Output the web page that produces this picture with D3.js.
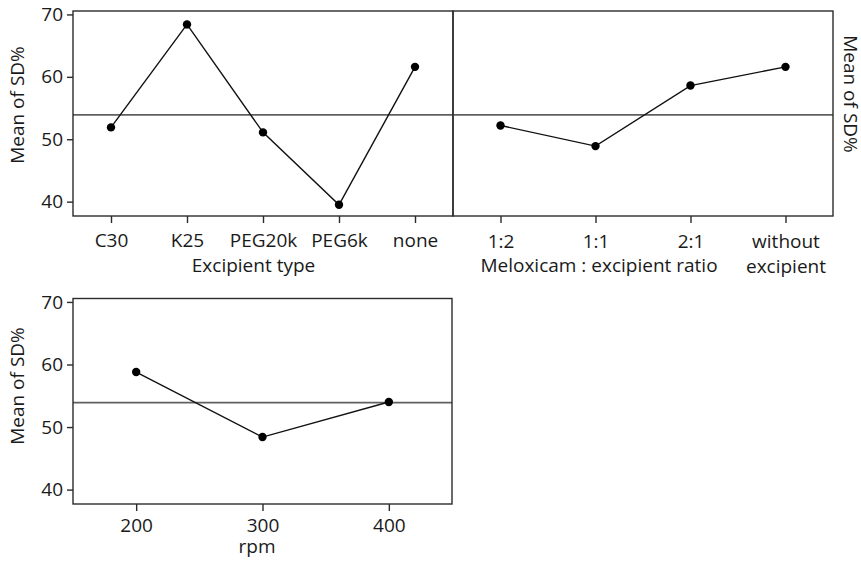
<!DOCTYPE html>
<html>
<head>
<meta charset="utf-8">
<script src="https://cdn.jsdelivr.net/npm/d3@7/dist/d3.min.js"></script>
<style>
  html, body { margin: 0; padding: 0; background: #fff; }
  svg { display: block; }
  text { font-family: "Open Sans", "Noto Sans", sans-serif; fill: #1a1a1a; }
</style>
</head>
<body>
<svg id="chart" width="861" height="563"></svg>
<script>
// ---- data ----
const excipientTypes = ["C30", "K25", "PEG20k", "PEG6k", "none"];
const excipientMeans = [51.9, 68.4, 51.1, 39.5, 61.6];

const ratioLabels = ["1:2", "1:1", "2:1", "without\nexcipient"];
const ratioMeans = [52.2, 48.9, 58.6, 61.6];

const rpmValues = [200, 300, 400];
const rpmMeans = [58.8, 48.4, 54.0];
const rpmTicks = [200, 300, 400];

const grandMean = 53.9;
const yTicks = [40, 50, 60, 70];
const yLabel = "Mean of SD%";

// ---- layout ----
const svg = d3.select("#chart");
const FS = 19;
const yDomain = [37.7, 70.55];
const borderColor = "#2b2b2b";

function panel(opts) {
  const g = svg.append("g");
  const { x0, x1, y0, y1, xScale, xs, ys, showY } = opts;
  const yScale = d3.scaleLinear().domain(yDomain).range([y1, y0]);

  // mean reference line
  g.append("line")
    .attr("x1", x0).attr("x2", x1)
    .attr("y1", yScale(grandMean)).attr("y2", yScale(grandMean))
    .attr("stroke", "#606060").attr("stroke-width", 1.6);

  // data line
  const pts = xs.map((d, i) => [xScale(d), yScale(ys[i])]);
  g.append("path")
    .attr("d", d3.line()(pts))
    .attr("fill", "none").attr("stroke", "#111").attr("stroke-width", 1.4);
  g.selectAll("circle.pt").data(pts).enter().append("circle")
    .attr("cx", d => d[0]).attr("cy", d => d[1]).attr("r", 4.2)
    .attr("fill", "#000");

  // frame
  g.append("rect")
    .attr("x", x0).attr("y", y0).attr("width", x1 - x0).attr("height", y1 - y0)
    .attr("fill", "none").attr("stroke", borderColor).attr("stroke-width", 1.4);

  // x axis ticks
  const xAxis = d3.axisBottom(xScale).tickSizeOuter(0).tickSizeInner(7).tickPadding(5);
  if (opts.xTickValues) xAxis.tickValues(opts.xTickValues);
  const xa = g.append("g").attr("transform", `translate(0,${y1})`).call(xAxis);
  xa.select(".domain").remove();
  xa.selectAll(".tick line").attr("stroke", borderColor).attr("stroke-width", 1.4);
  xa.selectAll(".tick text").each(function(d) {
    const t = d3.select(this);
    const label = String(opts.xFormat ? opts.xFormat(d) : d);
    const lines = label.split("\n");
    t.text(null)
      .attr("y", null).attr("dy", null)
      .attr("font-size", FS).attr("fill", "#1a1a1a")
      .style("font-family", '"Open Sans", sans-serif');
    lines.forEach((ln, i) => {
      t.append("tspan").attr("x", 0).attr("y", opts.tickBaseline + i * 24.5).text(ln);
    });
  });

  // y axis
  if (showY) {
    const yAxis = d3.axisLeft(yScale).tickValues(yTicks).tickSizeOuter(0).tickSizeInner(6).tickPadding(4);
    const ya = g.append("g").attr("transform", `translate(${x0},0)`).call(yAxis);
    ya.select(".domain").remove();
    ya.selectAll(".tick line").attr("stroke", borderColor).attr("stroke-width", 1.4);
    ya.selectAll(".tick text")
      .attr("font-size", FS).attr("fill", "#1a1a1a")
      .style("font-family", '"Open Sans", sans-serif');
  }
  return yScale;
}

// top-left: Excipient type
const xExc = d3.scalePoint().domain(excipientTypes).range([73, 453]).padding(0.5);
panel({ x0: 73, x1: 453, y0: 11, y1: 216, xScale: xExc, xs: excipientTypes, ys: excipientMeans,
        showY: true, tickBaseline: 247 - 216 });

// top-right: ratio
const xRatio = d3.scalePoint().domain(ratioLabels).range([453, 833]).padding(0.5);
panel({ x0: 453, x1: 833, y0: 11, y1: 216, xScale: xRatio, xs: ratioLabels, ys: ratioMeans,
        showY: false, tickBaseline: 248 - 216 });

// bottom: rpm
const xRpm = d3.scaleLinear().domain([150, 450]).range([73, 452]);
panel({ x0: 73, x1: 452, y0: 298.5, y1: 504, xScale: xRpm, xs: rpmValues, ys: rpmMeans,
        showY: true, xTickValues: rpmTicks, xFormat: d3.format("d"), tickBaseline: 532 - 504 });

// axis titles
const title = (txt, x, y, rot) => {
  const t = svg.append("text").attr("font-size", FS).attr("text-anchor", "middle").text(txt);
  if (rot) t.attr("transform", `translate(${x},${y}) rotate(${rot})`);
  else t.attr("x", x).attr("y", y);
  return t;
};
title("Excipient type", 253.5, 272);
title("Meloxicam : excipient ratio", 599, 272);
title("rpm", 257, 553);
title(yLabel, 24, 105, -90);
title(yLabel, 844, 94, 90);
title(yLabel, 24, 386, -90);
</script>
</body>
</html>
